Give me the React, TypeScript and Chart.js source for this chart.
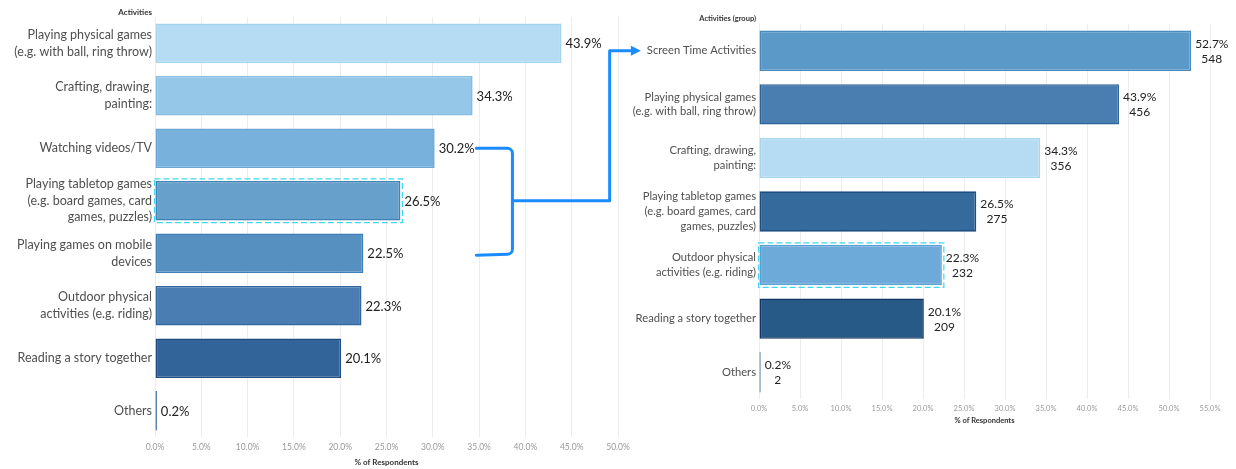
import React, { useEffect, useRef } from "react";
import { Chart, registerables } from "chart.js";

Chart.register(...registerables);

// ---------- data ----------
const leftCategories: (string | string[])[] = [
  ["Playing physical games", "(e.g. with ball, ring throw)"],
  ["Crafting, drawing,", "painting:"],
  "Watching videos/TV",
  ["Playing tabletop games", "(e.g. board games, card", "games, puzzles)"],
  ["Playing games on mobile", "devices"],
  ["Outdoor physical", "activities (e.g. riding)"],
  "Reading a story together",
  "Others",
];
const leftValues = [43.9, 34.3, 30.2, 26.5, 22.5, 22.3, 20.1, 0.2];
const leftFill = ["#b5dcf2", "#95c7e8", "#79b1dd", "#67a0cb", "#5690c1", "#4a7db1", "#32649a", "#1e4f8f"];
const leftBorder = ["#a6d3ee", "#86bde3", "#6aa6d6", "#3c80b4", "#3f7eb4", "#2f679e", "#1d4b80", "#1e4f8f"];
const leftHighlight = [3];
const leftAxisMax = 50;

const rightCategories: (string | string[])[] = [
  "Screen Time Activities",
  ["Playing physical games", "(e.g. with ball, ring throw)"],
  ["Crafting, drawing,", "painting:"],
  ["Playing tabletop games", "(e.g. board games, card", "games, puzzles)"],
  ["Outdoor physical", "activities (e.g. riding)"],
  "Reading a story together",
  "Others",
];
const rightValues = [52.7, 43.9, 34.3, 26.5, 22.3, 20.1, 0.2];
const rightCounts = [548, 456, 356, 275, 232, 209, 2];
const rightFill = ["#5b9ac8", "#4a7eb0", "#b5dcf2", "#356a9c", "#6eaad9", "#285a88", "#1e4f8f"];
const rightBorder = ["#4a8bbf", "#2e6499", "#a9d6ef", "#1e4e80", "#5aa0d3", "#0f3566", "#1e4f8f"];
const rightHighlight = [4];
const rightAxisMax = 55;

const tickStep = 5;
// annotation (bracket) positions, in % units of the left axis
const bracketFrom = 34.7;
const bracketSpine = 38.6;
const arrowSpine = 49.1;
const bracketRows = [2, 3, 4]; // Watching, Tabletop (middle), Mobile
const arrowTargetRow = 0; // Screen Time Activities in right chart

const FONT = "Lato, 'Open Sans', sans-serif";
const RIGHT_LABEL_SIZE = 11.2;

// ---------- layout ----------
const LEFT_W = 640;
const RIGHT_X = 612;
const RIGHT_W = 1236 - RIGHT_X;
const H = 469;

function valueLabelPlugin(counts?: number[], fontSize = 13) {
  return {
    id: "valueLabels",
    afterDatasetsDraw(chart: any) {
      const ctx = chart.ctx;
      const meta = chart.getDatasetMeta(0);
      const data = chart.data.datasets[0].data as number[];
      ctx.save();
      ctx.fillStyle = "#222";
      ctx.font = `${fontSize}px ${FONT}`;
      ctx.textBaseline = "middle";
      meta.data.forEach((bar: any, i: number) => {
        const pct = data[i].toFixed(1) + "%";
        const x0 = bar.x + 4;
        if (counts) {
          const w = ctx.measureText(pct).width;
          ctx.textAlign = "center";
          ctx.fillText(pct, x0 + w / 2, bar.y - 7);
          ctx.fillText(String(counts[i]), x0 + w / 2, bar.y + 8);
        } else {
          ctx.textAlign = "left";
          ctx.fillText(pct, x0, bar.y + 1);
        }
      });
      ctx.restore();
    },
  };
}

function headerPlugin(text: string, y: number, fontSize: number) {
  return {
    id: "header",
    afterDraw(chart: any) {
      const ctx = chart.ctx;
      ctx.save();
      ctx.font = `bold ${fontSize}px ${FONT}`;
      ctx.fillStyle = "#333";
      ctx.textAlign = "right";
      ctx.textBaseline = "middle";
      ctx.fillText(text, chart.scales.y.right - 3, y);
      ctx.restore();
    },
  };
}

function highlightPlugin(indices: number[]) {
  return {
    id: "highlight",
    afterDatasetsDraw(chart: any) {
      const ctx = chart.ctx;
      const meta = chart.getDatasetMeta(0);
      ctx.save();
      ctx.strokeStyle = "#41d6f0";
      ctx.lineWidth = 1.2;
      ctx.setLineDash([6, 3]);
      indices.forEach((i) => {
        const b: any = meta.data[i];
        ctx.strokeRect(b.base - 1, b.y - b.height / 2 - 2, b.x - b.base + 3, b.height + 4);
      });
      ctx.restore();
    },
  };
}

function makeConfig(opts: {
  labels: (string | string[])[];
  values: number[];
  fill: string[];
  border: string[];
  max: number;
  yWidth: number;
  xHeight: number;
  padding: any;
  labelSize: number;
  tickSize: number;
  titleSize: number;
  plugins: any[];
}) {
  return {
    type: "bar" as const,
    data: {
      labels: opts.labels,
      datasets: [
        {
          data: opts.values,
          backgroundColor: opts.fill,
          borderColor: opts.border,
          borderWidth: 1.6,
          borderSkipped: false,
          categoryPercentage: 1,
          barPercentage: 0.755,
        },
      ],
    },
    options: {
      indexAxis: "y" as const,
      responsive: false,
      animation: false as const,
      layout: { padding: opts.padding },
      plugins: { legend: { display: false }, tooltip: { enabled: false }, title: { display: false } },
      scales: {
        x: {
          min: 0,
          max: opts.max,
          border: { display: false },
          grid: { color: "#ececec", lineWidth: 1, drawTicks: false },
          ticks: {
            stepSize: tickStep,
            padding: 5,
            color: "#9a9a9a",
            font: { family: FONT, size: opts.tickSize },
            callback: (v: any) => Number(v).toFixed(1) + "%",
            maxRotation: 0,
          },
          title: {
            display: true,
            text: "% of Respondents",
            color: "#333",
            font: { family: FONT, size: opts.titleSize, weight: "bold" as const },
            padding: { top: 0, bottom: 2 },
          },
          afterFit: (s: any) => {
            s.height = opts.xHeight;
          },
        },
        y: {
          border: { display: false },
          grid: { display: false, drawTicks: false },
          ticks: {
            padding: 3,
            color: "#4f4f4f",
            font: { family: FONT, size: opts.labelSize, lineHeight: 1.33 },
            autoSkip: false,
          },
          afterFit: (s: any) => {
            s.width = opts.yWidth;
          },
        },
      },
    },
    plugins: opts.plugins,
  };
}

export default function App() {
  const leftRef = useRef<HTMLCanvasElement>(null);
  const rightRef = useRef<HTMLCanvasElement>(null);
  const overlayRef = useRef<HTMLCanvasElement>(null);

  useEffect(() => {
    const left = new Chart(
      leftRef.current!,
      makeConfig({
        labels: leftCategories,
        values: leftValues,
        fill: leftFill,
        border: leftBorder,
        max: leftAxisMax,
        yWidth: 155,
        xHeight: 32,
        padding: { top: 17, right: 22, left: 0, bottom: 0 },
        labelSize: 12.5,
        tickSize: 8.5,
        titleSize: 8,
        plugins: [valueLabelPlugin(undefined, 13), highlightPlugin(leftHighlight), headerPlugin("Activities", 12, 8)],
      }) as any
    );
    const right = new Chart(
      rightRef.current!,
      makeConfig({
        labels: rightCategories,
        values: rightValues,
        fill: rightFill,
        border: rightBorder,
        max: rightAxisMax,
        yWidth: 759 - RIGHT_X,
        xHeight: 28,
        padding: { top: 24, right: 26, left: 0, bottom: 42 },
        labelSize: RIGHT_LABEL_SIZE,
        tickSize: 7.5,
        titleSize: 7.5,
        plugins: [valueLabelPlugin(rightCounts, 12), highlightPlugin(rightHighlight), headerPlugin("Activities (group)", 19, 7.5)],
      }) as any
    );

    // bracket + arrow annotation computed from both charts' scales
    const oc = overlayRef.current!;
    const ctx = oc.getContext("2d")!;
    ctx.clearRect(0, 0, oc.width, oc.height);
    const lx = left.scales.x;
    const ly = left.scales.y;
    const ry = right.scales.y;
    const xFrom = lx.getPixelForValue(bracketFrom);
    const xSpine = lx.getPixelForValue(bracketSpine);
    const xArrow = lx.getPixelForValue(arrowSpine);
    const yTop = ly.getPixelForValue(bracketRows[0]);
    const yMid = ly.getPixelForValue(bracketRows[1]);
    const yBot = ly.getPixelForValue(bracketRows[2]) + 1;
    const yTarget = ry.getPixelForValue(arrowTargetRow);
    ctx.font = `${RIGHT_LABEL_SIZE}px ${FONT}`;
    const targetLabel = String(rightCategories[arrowTargetRow]);
    const xTip = RIGHT_X + ry.right - 3 - ctx.measureText(targetLabel).width - 6;
    ctx.save();
    ctx.strokeStyle = "#1a8cff";
    ctx.fillStyle = "#1a8cff";
    ctx.lineWidth = 3;
    ctx.lineJoin = "round";
    ctx.lineCap = "round";
    ctx.beginPath();
    ctx.moveTo(xFrom, yTop);
    ctx.arcTo(xSpine, yTop, xSpine, yMid, 5);
    ctx.arcTo(xSpine, yBot, xFrom, yBot, 5);
    ctx.lineTo(xFrom, yBot + 1);
    ctx.stroke();
    ctx.beginPath();
    ctx.moveTo(xSpine, yMid);
    ctx.lineTo(xArrow, yMid);
    ctx.lineTo(xArrow, yTarget);
    ctx.lineTo(xTip - 7, yTarget);
    ctx.stroke();
    ctx.beginPath();
    ctx.moveTo(xTip, yTarget);
    ctx.lineTo(xTip - 10, yTarget - 5);
    ctx.lineTo(xTip - 10, yTarget + 5);
    ctx.closePath();
    ctx.fill();
    ctx.restore();

    return () => {
      left.destroy();
      right.destroy();
    };
  }, []);

  return (
    <div style={{ position: "absolute", left: 0, top: 0, width: 1236, height: H, background: "#fff", overflow: "hidden" }}>
      <canvas ref={leftRef} width={LEFT_W} height={H} style={{ position: "absolute", left: 0, top: 0, width: LEFT_W, height: H }} />
      <canvas ref={rightRef} width={RIGHT_W} height={H} style={{ position: "absolute", left: RIGHT_X, top: 0, width: RIGHT_W, height: H }} />
      <canvas
        ref={overlayRef}
        width={1236}
        height={H}
        style={{ position: "absolute", left: 0, top: 0, width: 1236, height: H, pointerEvents: "none" }}
      />
    </div>
  );
}
